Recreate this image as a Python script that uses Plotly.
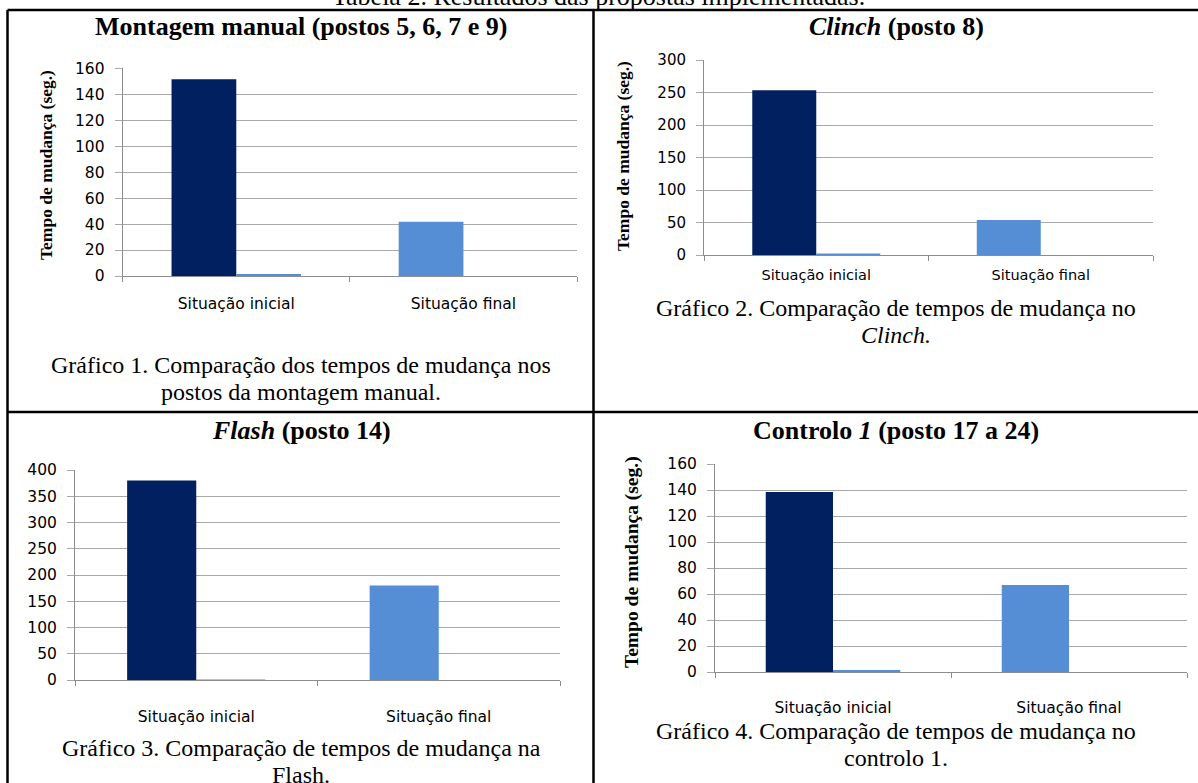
import plotly.graph_objects as go

W, H = 1198, 783

categories = ["Situação inicial", "Situação final"]

# Chart 1: Montagem manual
c1_main = [151.5, 41.8]
c1_second = [1.5, 0]
# Chart 2: Clinch
c2_main = [253.5, 54]
c2_second = [2.5, 0]
# Chart 3: Flash
c3_main = [380, 180]
c3_second = [0.8, 0]
# Chart 4: Controlo 1
c4_main = [138.5, 67]
c4_second = [1.5, 0]

y_ranges = [160, 300, 400, 160]
y_dticks = [20, 50, 50, 20]

headers = [
    "<b>Montagem manual (postos 5, 6, 7 e 9)</b>",
    "<b><i>Clinch</i> (posto 8)</b>",
    "<b><i>Flash</i> (posto 14)</b>",
    "<b>Controlo <i>1</i> (posto 17 a 24)</b>",
]
captions = [
    ["Gráfico 1. Comparação dos tempos de mudança nos", "postos da montagem manual."],
    ["Gráfico 2. Comparação de tempos de mudança no", "<i>Clinch.</i>"],
    ["Gráfico 3. Comparação de tempos de mudança na", "Flash."],
    ["Gráfico 4. Comparação de tempos de mudança no", "controlo 1."],
]
table_title = "Tabela 2. Resultados das propostas implementadas."
y_title = "<b>Tempo de mudança (seg.)</b>"

NAVY = "#002060"
LIGHT = "#558ED5"
GRID = "#A9A9A9"
AXIS = "#8C8C8C"

def px(x):
    return x / W

def py(y):
    return 1 - y / H

# plot areas in pixels: (x0, x1, ytop, ybottom)
areas = [
    (122.7, 577, 68.3, 276),
    (704, 1153, 60, 255),
    (75, 560, 470, 680),
    (715, 1187, 464, 672),
]
label_standoff = [13, 7, 22, 21]
cat_font_sizes = [15.5, 14.5, 15.5, 15.5]
ytick_font_sizes = [15.5, 15, 15.5, 15.5]

fig = go.Figure()
mains = [c1_main, c2_main, c3_main, c4_main]
seconds = [c1_second, c2_second, c3_second, c4_second]

for i in range(4):
    xa = "x" if i == 0 else f"x{i+1}"
    ya = "y" if i == 0 else f"y{i+1}"
    fig.add_trace(go.Bar(x=categories, y=mains[i], marker=dict(color=[NAVY, LIGHT], line=dict(width=0)),
                         xaxis=xa, yaxis=ya, showlegend=False, hoverinfo="skip"))
    fig.add_trace(go.Bar(x=categories, y=seconds[i], marker=dict(color=LIGHT, line=dict(width=0)),
                         xaxis=xa, yaxis=ya, showlegend=False, hoverinfo="skip"))

layout = dict(
    width=W, height=H, autosize=False,
    margin=dict(l=0, r=0, t=0, b=0, pad=0),
    paper_bgcolor="white", plot_bgcolor="white",
    barmode="group", bargap=0.43, bargroupgap=0,
    showlegend=False,
)

for i, (x0, x1, yt, yb) in enumerate(areas):
    sx = "" if i == 0 else str(i + 1)
    layout[f"xaxis{sx}"] = dict(
        domain=[px(x0), px(x1)], anchor=f"y{sx}", automargin=False,
        type="category", showline=True, linecolor=AXIS, linewidth=1,
        ticks="outside", tickson="boundaries", ticklen=5, tickcolor=AXIS,
        showgrid=False,
        tickfont=dict(family="DejaVu Sans", size=cat_font_sizes[i], color="#000000"),
        ticklabelstandoff=label_standoff[i],
        fixedrange=True,
    )
    layout[f"yaxis{sx}"] = dict(
        domain=[py(yb), py(yt)], anchor=f"x{sx}", automargin=False,
        range=[0, y_ranges[i]], dtick=y_dticks[i], tick0=0,
        showline=True, linecolor=AXIS, linewidth=1,
        ticks="outside", ticklen=7, tickcolor=GRID,
        showgrid=True, gridcolor=GRID, gridwidth=1, zeroline=False,
        tickfont=dict(family="DejaVu Sans", size=ytick_font_sizes[i], color="#000000"),
        ticklabelstandoff=7, fixedrange=True,
    )

fig.update_layout(**layout)

serif = "Liberation Serif"
HDR = 26
CAP = 24
ann = []
# table title (cut at top, as in the source page)
ann.append(dict(text=table_title, x=px(598), y=py(-3), xref="paper", yref="paper",
                xanchor="center", yanchor="middle", showarrow=False,
                font=dict(family=serif, size=HDR, color="black")))
header_pos = [(301, 27), (896, 27), (301, 430), (896, 430)]
for (hx, hy), t in zip(header_pos, headers):
    ann.append(dict(text=t, x=px(hx), y=py(hy), xref="paper", yref="paper",
                    xanchor="center", yanchor="middle", showarrow=False,
                    font=dict(family=serif, size=HDR, color="black")))
cap_pos = [(301, 365, 392), (896, 308, 335), (301, 748, 775), (896, 731, 758)]
for (cx, l1, l2), lines in zip(cap_pos, captions):
    for ly, t in zip((l1, l2), lines):
        ann.append(dict(text=t, x=px(cx), y=py(ly), xref="paper", yref="paper",
                        xanchor="center", yanchor="middle", showarrow=False,
                        font=dict(family=serif, size=CAP, color="black")))
ytitle_pos = [(46, 165, 17.5), (623, 156, 17.5), (632, 562, 19.5)]
for (tx, ty, fs) in ytitle_pos:
    ann.append(dict(text=y_title, x=px(tx), y=py(ty), xref="paper", yref="paper",
                    xanchor="center", yanchor="middle", showarrow=False, textangle=-90,
                    font=dict(family=serif, size=fs, color="black")))
fig.update_layout(annotations=ann)

# table borders
shapes = []
lw = 2.5
def line(x0, y0, x1, y1):
    shapes.append(dict(type="line", xref="paper", yref="paper",
                       x0=px(x0), y0=py(y0), x1=px(x1), y1=py(y1),
                       line=dict(color="black", width=lw)))
line(7.5, 10, 1198, 10)          # top
line(7.5, 10, 7.5, 783)          # left
line(593.5, 10, 593.5, 783)      # middle vertical
line(7.5, 412, 1198, 412)        # middle horizontal
fig.update_layout(shapes=shapes)

fig.write_html("out.html", config={"displayModeBar": False, "staticPlot": True},
               post_script="document.body.style.margin='0';document.body.style.overflow='hidden';")
